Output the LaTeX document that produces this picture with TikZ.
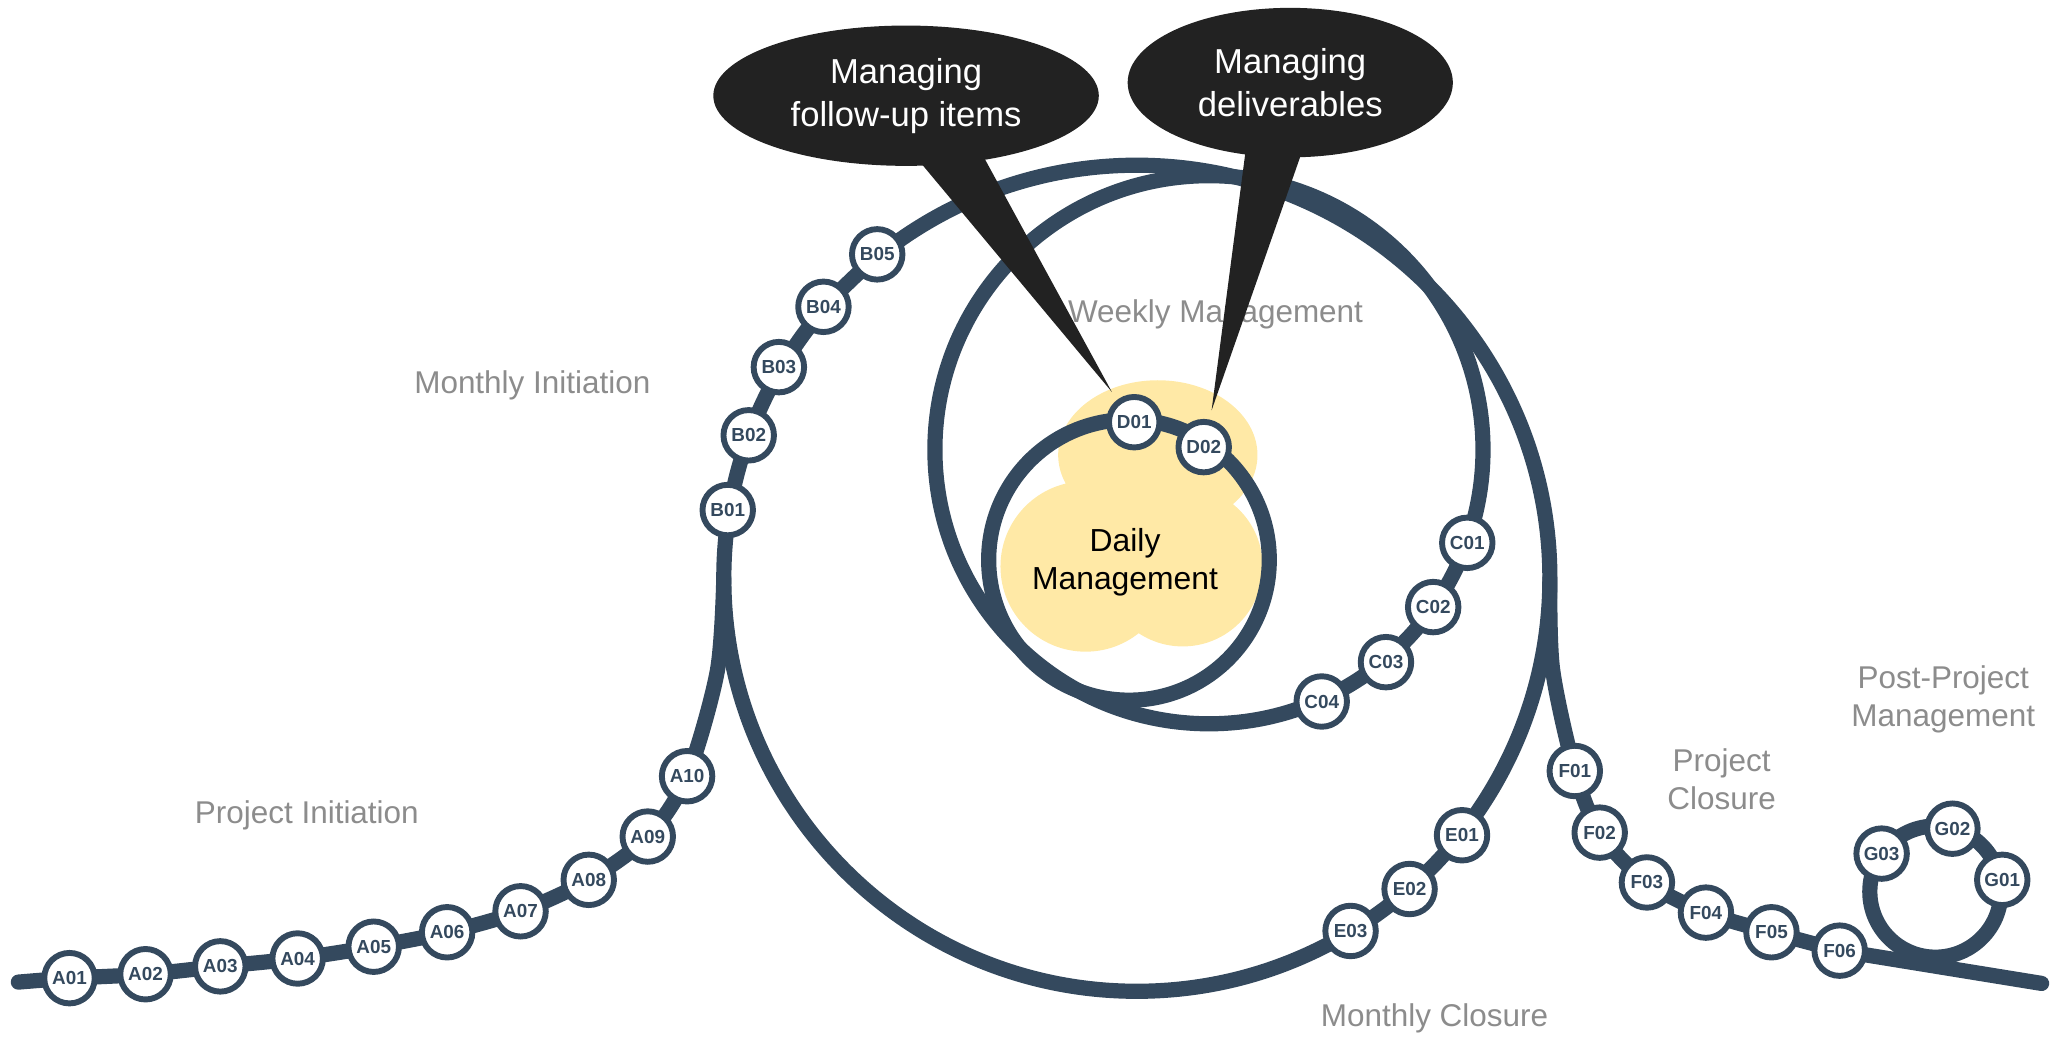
\documentclass[tikz,border=0pt]{standalone}
\usepackage{fontspec}
\setmainfont{Liberation Sans}
\usetikzlibrary{shapes.geometric,calc}
\definecolor{railblue}{RGB}{52,73,94}
\definecolor{phasegray}{RGB}{140,140,140}
\definecolor{talkblack}{RGB}{34,34,34}
\definecolor{dailyyellow}{RGB}{255,233,166}
\pgfdeclarelayer{cloud}
\pgfdeclarelayer{rails}
\pgfsetlayers{cloud,rails,main}
\tikzset{
  station/.style={circle,draw=railblue,line width=2.25pt,fill=white,minimum size=19.25pt,
    inner sep=0pt,text=railblue,font=\fontsize{7.2}{8}\selectfont\bfseries},
  rail/.style={draw=railblue,line width=5.8pt,line cap=round},
  phase/.style={text=phasegray,font=\fontsize{12}{14.5}\selectfont,align=center},
  talk/.style={ellipse,fill=talkblack,inner sep=0pt,text=white,
    font=\fontsize{13.2}{16.5}\selectfont,align=center}
}
\begin{document}
\begin{tikzpicture}[x=0.5pt,y=-0.5pt]
  \useasboundingbox (0,0) rectangle (1568,795);
  % stations along the track
  \foreach \n/\px/\py in {A01/53/746,A02/111/743,A03/168/737,A04/227/731,A05/285/722,
      A06/341/711,A07/397/695,A08/449/671,A09/494/638,A10/524/592,
      B01/555/389,B02/571/332,B03/594/280,B04/628/234,B05/669/194,
      C01/1119/414,C02/1093/463,C03/1057/505,C04/1008/535,
      D01/865/322,D02/918/341,
      E01/1115/637,E02/1075/678,E03/1030/710,
      F01/1201/588,F02/1220/635,F03/1256/673,F04/1301/696,F05/1351/711,F06/1403/725,
      G01/1527/671,G02/1489/632,G03/1435/651}
    \node[station] (\n) at (\px,\py) {\n};
  \coordinate (month) at (867,441);
  \coordinate (week) at (922,343);
  \coordinate (day) at (861,427);
  \coordinate (post) at (1476,680);
  \coordinate (start) at (14,749);
  \coordinate (finish) at (1557,750);
  \coordinate (leftside) at (552,441);
  \coordinate (rightside) at (1182,441);
  % daily cloud
  \begin{pgfonlayer}{cloud}
    \fill[dailyyellow] (883,347) ellipse[x radius=76,y radius=57]
      (828,432) circle[radius=65] (902,432) circle[radius=61];
  \end{pgfonlayer}
  % the track
  \begin{pgfonlayer}{rails}
    \draw[rail] (month) circle[radius=315];
    \draw[rail] (week) circle[radius=209];
    \draw[rail] (day) circle[radius=107];
    \draw[rail] (post) circle[radius=50];
    \draw[rail] plot[smooth] coordinates {(start) (A01) (A02) (A03) (A04) (A05) (A06)
      (A07) (A08) (A09) (A10) (547,512) (leftside)};
    \draw[rail] plot[smooth] coordinates {(rightside) (1184,510) (F01) (F02) (F03)
      (F04) (F05) (F06)} -- (finish);
  \end{pgfonlayer}
  % phase names
  \node[phase] (pinit) at (234,622) {Project Initiation};
  \node[phase] (minit) at (406,294) {Monthly Initiation};
  \node[phase] (wman) at (927,240) {Weekly Management};
  \node[phase] (mclose) at (1094,777) {Monthly Closure};
  \node[phase] (pclose) at (1313,594) {Project\\Closure};
  \node[phase] (ppm) at (1482,533) {Post-Project\\Management};
  \node[align=center,font=\fontsize{12.15}{14.5}\selectfont] (daily) at (858,429) {Daily\\Management};
  % callouts
  \node[talk,minimum width=147pt,minimum height=53.5pt] (followup) at (691,73) {Managing\\follow-up items};
  \node[talk,minimum width=124pt,minimum height=57pt] (deliver) at (984,63) {Managing\\deliverables};
  \fill[talkblack] ($(followup)+(1,39)$) -- ($(followup)+(55,39)$) -- ($(D01)+(-17,-23)$) -- cycle;
  \fill[talkblack] ($(deliver)+(-33,44)$) -- ($(deliver)+(12,44)$) -- ($(D02)+(6,-28)$) -- cycle;
\end{tikzpicture}
\end{document}
